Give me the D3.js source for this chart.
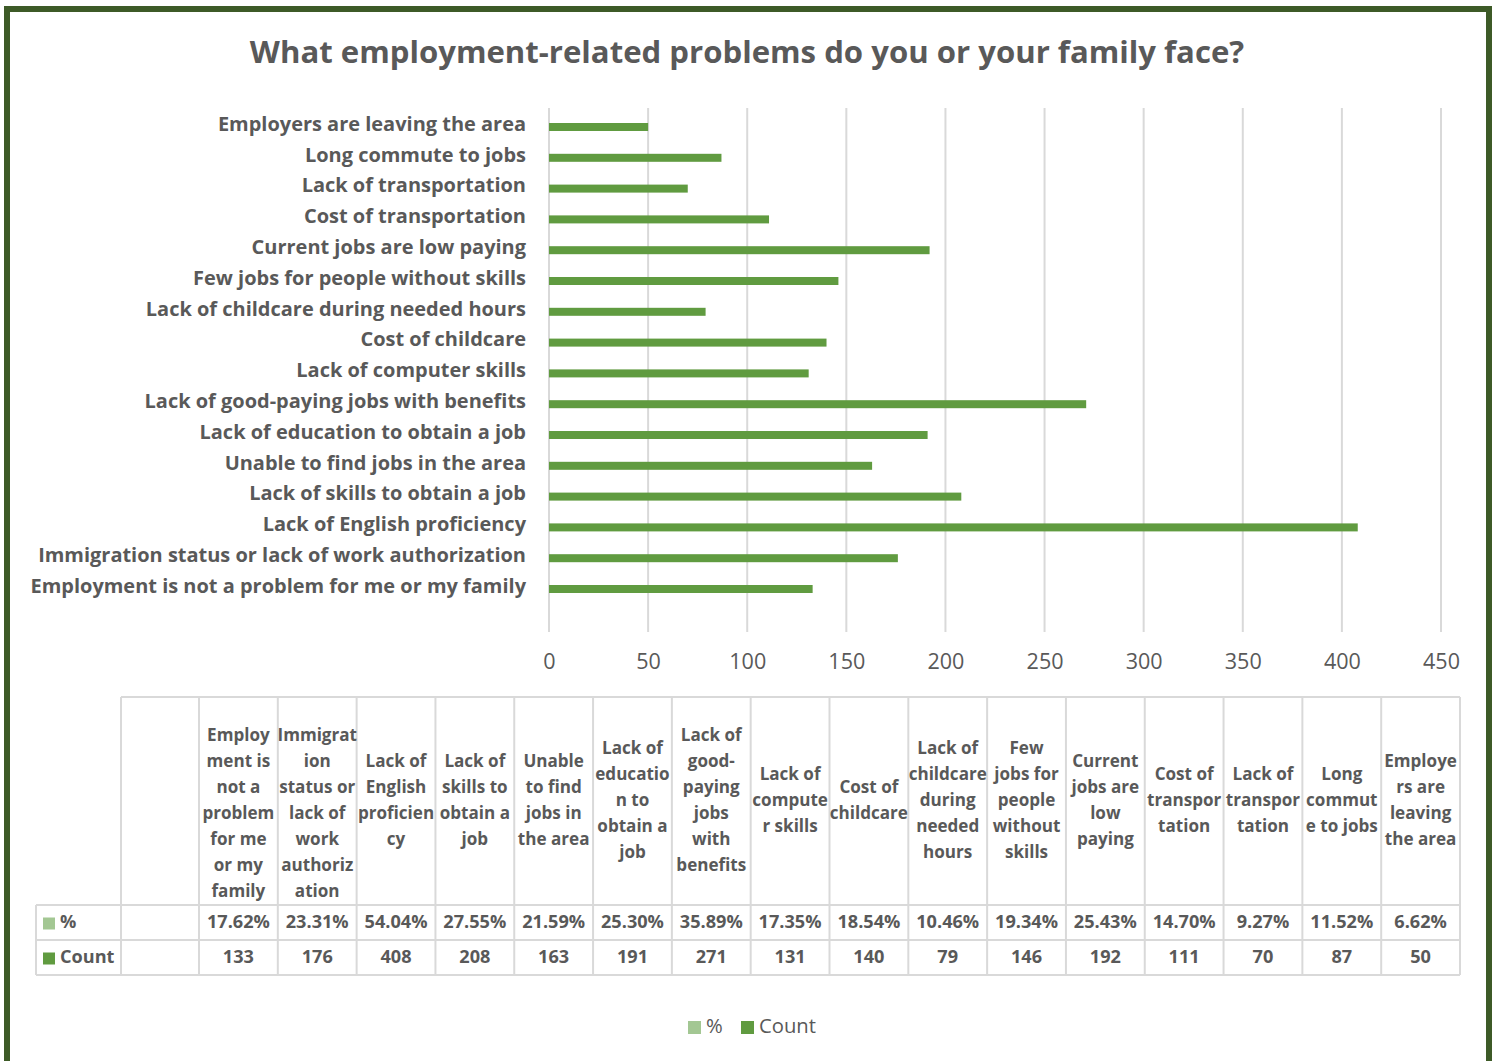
<!DOCTYPE html>
<html>
<head>
<meta charset="utf-8">
<script src="https://cdn.jsdelivr.net/npm/d3@7"></script>
<style>
  body { margin: 0; background: #fff; }
  svg { display: block; font-family: "Open Sans", Lato, sans-serif; }
</style>
</head>
<body>
<svg id="chart" width="1494" height="1061"></svg>
<script>
// Survey answers, in data-table order (bottom bar first)
const categories = [
  "Employment is not a problem for me or my family",
  "Immigration status or lack of work authorization",
  "Lack of English proficiency",
  "Lack of skills to obtain a job",
  "Unable to find jobs in the area",
  "Lack of education to obtain a job",
  "Lack of good-paying jobs with benefits",
  "Lack of computer skills",
  "Cost of childcare",
  "Lack of childcare during needed hours",
  "Few jobs for people without skills",
  "Current jobs are low paying",
  "Cost of transportation",
  "Lack of transportation",
  "Long commute to jobs",
  "Employers are leaving the area"
];
const counts = [133, 176, 408, 208, 163, 191, 271, 131, 140, 79, 146, 192, 111, 70, 87, 50];
const percents = [17.62, 23.31, 54.04, 27.55, 21.59, 25.30, 35.89, 17.35, 18.54, 10.46, 19.34, 25.43, 14.70, 9.27, 11.52, 6.62];

// Wrapped column headings of the data table
const headerLines = [
  ["Employ", "ment is", "not a", "problem", "for me", "or my", "family"],
  ["Immigrat", "ion", "status or", "lack of", "work", "authoriz", "ation"],
  ["Lack of", "English", "proficien", "cy"],
  ["Lack of", "skills to", "obtain a", "job"],
  ["Unable", "to find", "jobs in", "the area"],
  ["Lack of", "educatio", "n to", "obtain a", "job"],
  ["Lack of", "good-", "paying", "jobs", "with", "benefits"],
  ["Lack of", "compute", "r skills"],
  ["Cost of", "childcare"],
  ["Lack of", "childcare", "during", "needed", "hours"],
  ["Few", "jobs for", "people", "without", "skills"],
  ["Current", "jobs are", "low", "paying"],
  ["Cost of", "transpor", "tation"],
  ["Lack of", "transpor", "tation"],
  ["Long", "commut", "e to jobs"],
  ["Employe", "rs are", "leaving", "the area"]
];
const tickValues = [0, 50, 100, 150, 200, 250, 300, 350, 400, 450];
const seriesNames = ["%", "Count"];

const textColor = "#595959";
const gridColor = "#d9d9d9";
const countColor = "#609b40";
const pctColor = "#a3c793";
const frameColor = "#3d5a27";

const svg = d3.select("#chart");

// font size that makes a sample string span a given width
function fitSize(sample, weight, width) {
  const t = svg.append("text").attr("font-size", 100).attr("font-weight", weight).text(sample);
  const w = t.node().getComputedTextLength();
  t.remove();
  return 100 * width / w;
}
const titleSize = fitSize("What employment-related problems do you or your family face?", 700, 995);
const labelSize = fitSize("Employment is not a problem for me or my family", 700, 496);
const tickSize = fitSize("450", 400, 37);
const cellSize = fitSize("17.62%", 700, 63);
const headSize = fitSize("problem", 700, 72);
const legendSize = fitSize("Count", 400, 57);

// outer frame
svg.append("rect")
  .attr("x", 7).attr("y", 9).attr("width", 1482).attr("height", 1080)
  .attr("fill", "#fff").attr("stroke", frameColor).attr("stroke-width", 6);

// title
svg.append("text")
  .attr("x", 747).attr("y", 55)
  .attr("text-anchor", "middle")
  .attr("dominant-baseline", "middle")
  .attr("fill", textColor)
  .attr("font-size", titleSize).attr("font-weight", 700)
  .text("What employment-related problems do you or your family face?");

// scales
const x = d3.scaleLinear().domain([0, 450]).range([549, 1441]);
const y = d3.scaleBand()
  .domain(categories.slice().reverse())
  .range([111.6, 604.4]);

// vertical gridlines
svg.append("g").selectAll("line")
  .data(tickValues)
  .join("line")
  .attr("x1", d => x(d)).attr("x2", d => x(d))
  .attr("y1", 108).attr("y2", 632)
  .attr("stroke", gridColor).attr("stroke-width", 2);

// bars
svg.append("g").selectAll("rect")
  .data(categories.map((c, i) => ({ c, v: counts[i] })))
  .join("rect")
  .attr("x", x(0))
  .attr("y", d => y(d.c) + y.bandwidth() / 2 - 4)
  .attr("width", d => x(d.v) - x(0))
  .attr("height", 8)
  .attr("fill", countColor);

// category labels
svg.append("g").selectAll("text")
  .data(categories)
  .join("text")
  .attr("x", 526)
  .attr("y", d => y(d) + y.bandwidth() / 2 - 1.5)
  .attr("text-anchor", "end")
  .attr("dominant-baseline", "middle")
  .attr("fill", textColor)
  .attr("font-size", labelSize).attr("font-weight", 700)
  .text(d => d);

// x axis tick labels
const xAxis = d3.axisBottom(x).tickValues(tickValues).tickSize(0).tickPadding(0);
const gx = svg.append("g").attr("transform", "translate(0,663)").call(xAxis);
gx.select(".domain").remove();
gx.selectAll("text")
  .attr("dy", null).attr("y", 0)
  .attr("dominant-baseline", "middle")
  .attr("fill", textColor)
  .attr("font-size", tickSize)
  .attr("font-family", "'Open Sans', Lato, sans-serif");

// data table
const tbl = {
  left: 36, labelRight: 121, blankRight: 199, right: 1460,
  top: 697, headBottom: 905, pctBottom: 940, countBottom: 975
};
const col = d3.scaleBand()
  .domain(d3.range(categories.length))
  .range([tbl.blankRight, tbl.right]);
const tg = svg.append("g");
const lineAttr = sel => sel.attr("stroke", gridColor).attr("stroke-width", 2);

// horizontal rules
tg.append("line").attr("x1", tbl.labelRight).attr("x2", tbl.right).attr("y1", tbl.top).attr("y2", tbl.top).call(lineAttr);
[tbl.headBottom, tbl.pctBottom, tbl.countBottom].forEach(yy =>
  tg.append("line").attr("x1", tbl.left).attr("x2", tbl.right).attr("y1", yy).attr("y2", yy).call(lineAttr));
// vertical rules
tg.append("line").attr("x1", tbl.left).attr("x2", tbl.left).attr("y1", tbl.headBottom).attr("y2", tbl.countBottom).call(lineAttr);
const vx = [tbl.labelRight, ...d3.range(categories.length).map(i => col(i)), tbl.right];
tg.selectAll("line.v").data(vx).join("line").attr("class", "v")
  .attr("x1", d => d).attr("x2", d => d)
  .attr("y1", tbl.top).attr("y2", tbl.countBottom).call(lineAttr);

// header text
const lh = 26;
const headCenter = 801;
headerLines.forEach((lines, i) => {
  let first = headCenter - (lines.length - 1) * lh / 2;
  first = Math.max(first, 736);
  const t = tg.append("text")
    .attr("text-anchor", "middle")
    .attr("fill", textColor)
    .attr("font-size", headSize).attr("font-weight", 700);
  lines.forEach((ln, k) => {
    t.append("tspan")
      .attr("x", col(i) + col.bandwidth() / 2)
      .attr("y", first + k * lh)
      .attr("dominant-baseline", "middle")
      .text(ln);
  });
});

// value rows
const rows = [
  { name: seriesNames[0], color: pctColor, yc: (tbl.headBottom + tbl.pctBottom) / 2 + 1, vals: percents.map(p => p.toFixed(2) + "%") },
  { name: seriesNames[1], color: countColor, yc: (tbl.pctBottom + tbl.countBottom) / 2 + 1, vals: counts.map(String) }
];
rows.forEach(r => {
  tg.append("rect").attr("x", 43).attr("y", r.yc - 6).attr("width", 12).attr("height", 12).attr("fill", r.color);
  tg.append("text").attr("x", 60).attr("y", r.yc)
    .attr("dominant-baseline", "middle")
    .attr("fill", textColor).attr("font-size", cellSize).attr("font-weight", 700)
    .text(r.name);
  tg.selectAll(null).data(r.vals).join("text")
    .attr("x", (d, i) => col(i) + col.bandwidth() / 2)
    .attr("y", r.yc)
    .attr("text-anchor", "middle")
    .attr("dominant-baseline", "middle")
    .attr("fill", textColor).attr("font-size", cellSize).attr("font-weight", 700)
    .text(d => d);
});

// legend
const legend = svg.append("g");
const legendItems = [
  { name: seriesNames[0], color: pctColor, x: 688 },
  { name: seriesNames[1], color: countColor, x: 741 }
];
legendItems.forEach(it => {
  legend.append("rect").attr("x", it.x).attr("y", 1021).attr("width", 13).attr("height", 13).attr("fill", it.color);
  legend.append("text").attr("x", it.x + 18).attr("y", 1028)
    .attr("dominant-baseline", "middle")
    .attr("fill", textColor).attr("font-size", legendSize)
    .text(it.name);
});
</script>
</body>
</html>
